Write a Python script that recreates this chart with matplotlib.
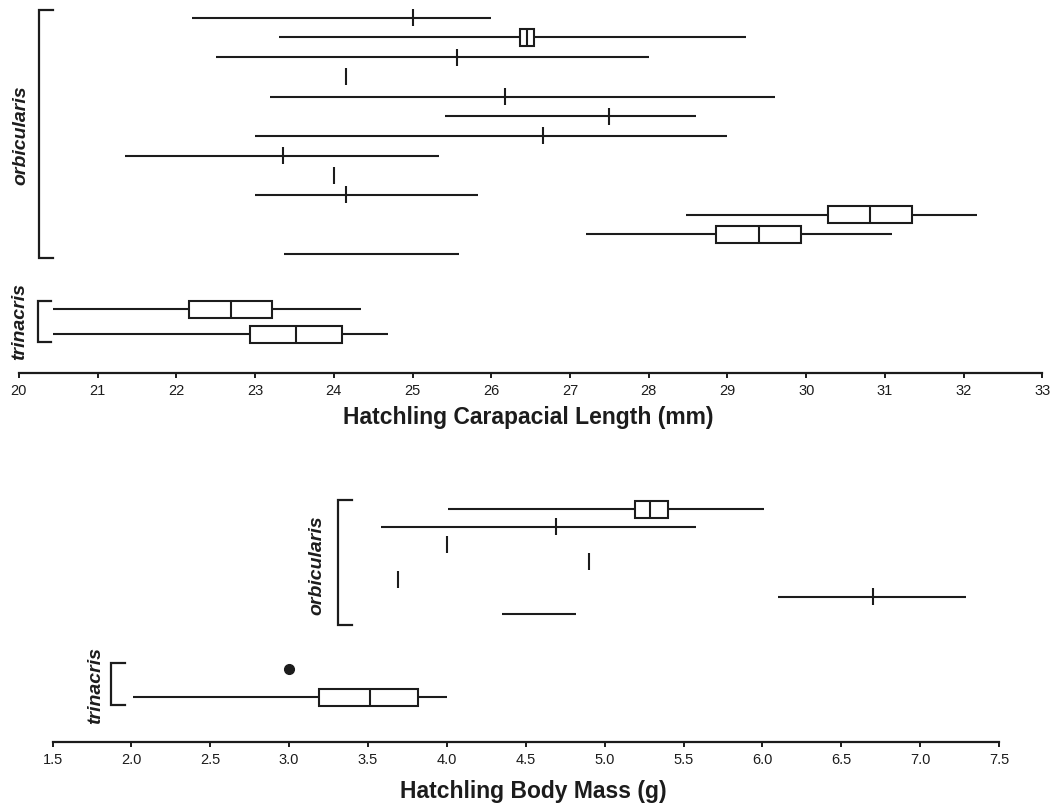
import numpy as np
import matplotlib
matplotlib.use("Agg")
import matplotlib.pyplot as plt
from matplotlib.patches import Rectangle

plt.rcParams['font.family'] = ['Liberation Sans', 'DejaVu Sans']

nan = np.nan
INK = "#1c1c1c"

# ---- Hatchling carapace length (mm): whisker low, Q1, median, Q3, whisker high
cl_orb_low = [22.2, 23.3, 22.5, nan, 23.19, 25.41, 23.0, 21.35, nan, 23.0, 28.47, 27.2, 23.37]
cl_orb_q1 = [nan, 26.36, nan, nan, nan, nan, nan, nan, nan, nan, 30.28, 28.85, nan]
cl_orb_med = [25.0, 26.45, 25.56, 24.16, 26.17, 27.5, 26.66, 23.36, 24.0, 24.16, 30.81, 29.4, nan]
cl_orb_q3 = [nan, 26.54, nan, nan, nan, nan, nan, nan, nan, nan, 31.34, 29.94, nan]
cl_orb_high = [26.0, 29.24, 28.0, nan, 29.61, 28.6, 29.0, 25.34, nan, 25.83, 32.17, 31.09, 25.59]

cl_tri_low = [20.43, 20.43]
cl_tri_q1 = [22.16, 22.94]
cl_tri_med = [22.69, 23.52]
cl_tri_q3 = [23.21, 24.11]
cl_tri_high = [24.34, 24.69]

cl_ticks = list(range(20, 34))

# ---- Hatchling body mass (g)
bm_orb_low = [4.01, 3.58, nan, nan, nan, 6.10, 4.35]
bm_orb_q1 = [5.19, nan, nan, nan, nan, nan, nan]
bm_orb_med = [5.29, 4.69, 4.0, 4.9, 3.69, 6.70, nan]
bm_orb_q3 = [5.40, nan, nan, nan, nan, nan, nan]
bm_orb_high = [6.01, 5.58, nan, nan, nan, 7.29, 4.82]

bm_tri_low = [nan, 2.01]
bm_tri_q1 = [nan, 3.19]
bm_tri_med = [nan, 3.51]
bm_tri_q3 = [nan, 3.82]
bm_tri_high = [nan, 4.0]
bm_tri_outlier = [3.0, nan]

bm_ticks = [1.5, 2.0, 2.5, 3.0, 3.5, 4.0, 4.5, 5.0, 5.5, 6.0, 6.5, 7.0, 7.5]

W, H = 1056, 806
fig = plt.figure(figsize=(W / 100, H / 100), dpi=100)


def add_axes_px(left, right, top, bottom):
    ax = fig.add_axes([left / W, 1 - bottom / H, (right - left) / W, (bottom - top) / H])
    ax.set_ylim(bottom, top)  # vertical data units = pixels from the top of the figure
    for s in ("left", "top", "right"):
        ax.spines[s].set_visible(False)
    ax.spines["bottom"].set_linewidth(1.6)
    ax.spines["bottom"].set_color(INK)
    ax.set_yticks([])
    ax.tick_params(axis="x", direction="out", length=3.5, width=1.4, color=INK,
                   labelsize=10.5, labelcolor=INK, pad=4)
    return ax


def draw_rows(ax, ys, low, q1, med, q3, high, h=17, lw=1.5):
    for y, lo, a, m, b, hi in zip(ys, low, q1, med, q3, high):
        if np.isfinite(lo) and np.isfinite(hi):
            ax.plot([lo, hi], [y, y], color=INK, lw=lw, solid_capstyle="butt", zorder=2)
        if np.isfinite(a) and np.isfinite(b):
            ax.add_patch(Rectangle((a, y - h / 2), b - a, h, facecolor="white",
                                   edgecolor=INK, lw=lw, zorder=3))
        if np.isfinite(m):
            ax.plot([m, m], [y - h / 2, y + h / 2], color=INK, lw=lw,
                    solid_capstyle="butt", zorder=4)


def bracket(ax, x0, x1, y0, y1, lw=1.6):
    ax.plot([x1, x0, x0, x1], [y0, y0, y1, y1], color=INK, lw=lw,
            solid_joinstyle="miter", clip_on=False, zorder=2)


def species(ax, x, y, name):
    ax.text(x, y, name, rotation=90, ha="center", va="center", fontsize=14,
            fontweight="bold", fontstyle="italic", color=INK, clip_on=False)


# ---------------- Carapace length panel ----------------
ax1 = add_axes_px(18.86, 1042.4, 0, 373.3)
ax1.set_xlim(20, 33)
ax1.set_xticks(cl_ticks)
ax1.set_xticklabels([str(t) for t in cl_ticks])

orb_y1 = [17.7 + 19.7 * k for k in range(len(cl_orb_med))]
tri_y1 = [309, 334]
draw_rows(ax1, orb_y1, cl_orb_low, cl_orb_q1, cl_orb_med, cl_orb_q3, cl_orb_high)
draw_rows(ax1, tri_y1, cl_tri_low, cl_tri_q1, cl_tri_med, cl_tri_q3, cl_tri_high)

bracket(ax1, 20.26, 20.43, 10, 258)
bracket(ax1, 20.24, 20.41, 301, 341.5)
species(ax1, 20.03, 135, "orbicularis")
species(ax1, 20.005, 321, "trinacris")

fig.text(528 / W, 1 - 417 / H, "Hatchling Carapacial Length (mm)", ha="center",
         va="center", fontsize=16.5, fontweight="bold", color=INK)

# ---------------- Body mass panel ----------------
ax2 = add_axes_px(52.5, 999, 470, 742.3)
ax2.set_xlim(1.5, 7.5)
ax2.set_xticks(bm_ticks)
ax2.set_xticklabels([f"{t:.1f}" for t in bm_ticks])

orb_y2 = [509 + 17.5 * k for k in range(len(bm_orb_med))]
tri_y2 = [668.7, 697.3]
draw_rows(ax2, orb_y2, bm_orb_low, bm_orb_q1, bm_orb_med, bm_orb_q3, bm_orb_high)
draw_rows(ax2, tri_y2, bm_tri_low, bm_tri_q1, bm_tri_med, bm_tri_q3, bm_tri_high)
ax2.plot(bm_tri_outlier, tri_y2, "o", color=INK, ms=7, zorder=5)

bracket(ax2, 3.312, 3.397, 500, 625)
bracket(ax2, 1.871, 1.960, 663, 705)
species(ax2, 3.178, 565, "orbicularis")
species(ax2, 1.776, 685, "trinacris")

fig.text(533.6 / W, 1 - 791.7 / H, "Hatchling Body Mass (g)", ha="center",
         va="center", fontsize=16.5, fontweight="bold", color=INK)

fig.savefig("out.png", dpi=100)
